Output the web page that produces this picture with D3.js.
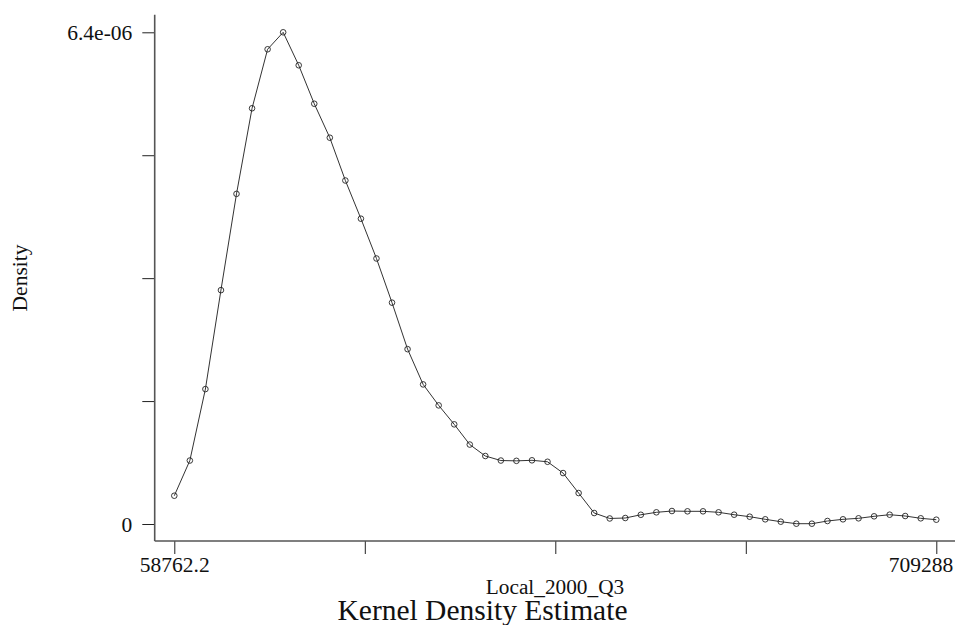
<!DOCTYPE html>
<html>
<head>
<meta charset="utf-8">
<script src="https://cdn.jsdelivr.net/npm/d3@7/dist/d3.min.js"></script>
<style>
  html, body { margin: 0; padding: 0; background: #fff; }
  svg { display: block; }
  text { font-family: "Liberation Serif", "DejaVu Serif", serif; fill: #111; }
</style>
</head>
<body>
<svg id="chart" width="955" height="625"></svg>
<script>
// Evaluation grid (Local_2000_Q3)
const xValues = [
  58762.2, 72038, 85314, 98590, 111866, 125142, 138418, 151694, 164970, 178247,
  191523, 204799, 218075, 231351, 244627, 257903, 271179, 284455, 297731, 311007,
  324283, 337559, 350835, 364111, 377387, 390663, 403939, 417215, 430491, 443767,
  457043, 470319, 483595, 496871, 510147, 523423, 536700, 549976, 563252, 576528,
  589804, 603080, 616356, 629632, 642908, 656184, 669460, 682736, 696012, 709288
];
// Kernel density estimate values
const densityValues = [
  3.68e-7, 8.26e-7, 1.756e-6, 3.044e-6, 4.297e-6, 5.411e-6, 6.179e-6, 6.40e-6, 5.971e-6, 5.470e-6,
  5.028e-6, 4.471e-6, 3.974e-6, 3.456e-6, 2.881e-6, 2.276e-6, 1.817e-6, 1.544e-6, 1.297e-6, 1.034e-6,
  8.85e-7, 8.26e-7, 8.22e-7, 8.29e-7, 8.10e-7, 6.63e-7, 4.03e-7, 1.43e-7, 7.2e-8, 7.8e-8,
  1.20e-7, 1.52e-7, 1.69e-7, 1.65e-7, 1.65e-7, 1.52e-7, 1.21e-7, 9.5e-8, 6.1e-8, 3.0e-8,
  4e-9, 4e-9, 3.9e-8, 6.1e-8, 7.4e-8, 1.00e-7, 1.21e-7, 1.04e-7, 7.4e-8, 5.6e-8
];
const xTickValues = [58762.2, 221393.65, 384025.1, 546656.55, 709288];
const xTickLabels = ["58762.2", "", "", "", "709288"];
const yTickValues = [0, 1.6e-6, 3.2e-6, 4.8e-6, 6.4e-6];
const yTickLabels = ["0", "", "", "", "6.4e-06"];
const xTitle = "Local_2000_Q3";
const yTitle = "Density";
const chartTitle = "Kernel Density Estimate";

const data = xValues.map((x, i) => ({ x: x, y: densityValues[i] }));

const svg = d3.select("#chart");

const x = d3.scaleLinear().domain([58762.2, 709288]).range([174.3, 936.3]);
const y = d3.scaleLinear().domain([0, 6.4e-6]).range([524, 32.3]);

const axisX0 = 154.7, axisY0 = 541;

// Y axis
const yAxis = svg.append("g")
  .attr("transform", `translate(${axisX0},0)`)
  .call(d3.axisLeft(y).tickValues(yTickValues)
    .tickFormat((d, i) => yTickLabels[i]).tickSize(12.4).tickSizeOuter(0).tickPadding(10));
yAxis.select(".domain").remove();
yAxis.selectAll(".tick line").attr("stroke", "#222").attr("stroke-width", 1);
yAxis.selectAll(".tick text")
  .attr("font-family", "Liberation Serif").attr("font-size", 21.5)
  .attr("fill", "#111").attr("dy", "0.34em");

// X axis
const xAxis = svg.append("g")
  .attr("transform", `translate(0,${axisY0})`)
  .call(d3.axisBottom(x).tickValues(xTickValues)
    .tickFormat((d, i) => xTickLabels[i]).tickSize(13).tickSizeOuter(0));
xAxis.select(".domain").remove();
xAxis.selectAll(".tick line").attr("stroke", "#222").attr("stroke-width", 1);
xAxis.selectAll(".tick text")
  .attr("font-family", "Liberation Serif").attr("font-size", 21.5)
  .attr("fill", "#111").attr("y", 31.3).attr("dy", 0);
// last label kept inside the frame (right-aligned like the reference)
xAxis.selectAll(".tick text").filter((d, i) => i === xTickValues.length - 1)
  .attr("text-anchor", "end").attr("dx", 16.5);

// Axis lines
svg.append("line").attr("x1", axisX0).attr("x2", axisX0).attr("y1", 14.7).attr("y2", axisY0)
  .attr("stroke", "#555").attr("stroke-width", 1.6);
svg.append("line").attr("x1", axisX0).attr("x2", 955).attr("y1", axisY0).attr("y2", axisY0)
  .attr("stroke", "#555").attr("stroke-width", 1.6);

// Density line
const line = d3.line().x(d => x(d.x)).y(d => y(d.y));
svg.append("path").datum(data)
  .attr("d", line).attr("fill", "none").attr("stroke", "#333").attr("stroke-width", 1);

// Markers
svg.append("g").selectAll("circle").data(data).enter().append("circle")
  .attr("cx", d => x(d.x)).attr("cy", d => y(d.y)).attr("r", 2.8)
  .attr("fill", "none").attr("stroke", "#222").attr("stroke-width", 0.9);

// Titles
svg.append("text").attr("x", 555).attr("y", 594).attr("text-anchor", "middle")
  .attr("font-size", 21.3).text(xTitle);
svg.append("text").attr("transform", "translate(27,278) rotate(-90)").attr("text-anchor", "middle")
  .attr("font-size", 21.5).text(yTitle);
svg.append("text").attr("x", 482.5).attr("y", 620).attr("text-anchor", "middle")
  .attr("font-size", 29.5).text(chartTitle);
</script>
</body>
</html>
